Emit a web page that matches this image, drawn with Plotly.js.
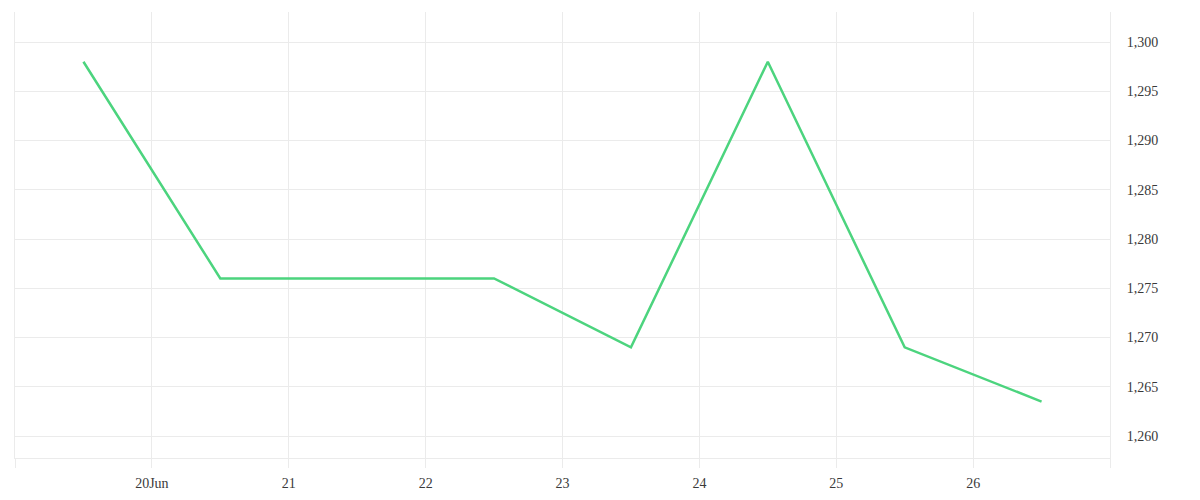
<!DOCTYPE html>
<html>
<head>
<meta charset="utf-8">
<script src="https://cdn.plot.ly/plotly-3.0.1.min.js"></script>
<style>
  html, body { margin: 0; padding: 0; background: #fff; }
  #chart { width: 1200px; height: 500px; }
</style>
</head>
<body>
<div id="chart"></div>
<script>
// one value per day, plotted at midday
const dates = ['2023-06-19 12:00', '2023-06-20 12:00', '2023-06-21 12:00', '2023-06-22 12:00',
  '2023-06-23 12:00', '2023-06-24 12:00', '2023-06-25 12:00', '2023-06-26 12:00'];
const values = [1298, 1276, 1276, 1276, 1269, 1298, 1269, 1263.5];

// x ticks, the two edge ones have no label
const tickDates = ['2023-06-19', '2023-06-20', '2023-06-21', '2023-06-22', '2023-06-23',
  '2023-06-24', '2023-06-25', '2023-06-26', '2023-06-27'];
const tickLabels = ['', '20Jun', '21', '22', '23', '24', '25', '26', ''];

const gridColor = '#ebebeb';
const fontFamily = 'Liberation Serif, DejaVu Serif, serif';
const textColor = '#3a3a3a';

const traces = [{
  type: 'scatter',
  mode: 'lines',
  x: dates,
  y: values,
  hoverinfo: 'x+y',
  line: { color: '#4cd47e', width: 2.5 },
}];

const layout = {
  width: 1200,
  height: 500,
  paper_bgcolor: '#fff',
  plot_bgcolor: '#fff',
  showlegend: false,
  font: { family: fontFamily, size: 14, color: textColor },
  margin: { l: 15, r: 90, t: 12, b: 42, pad: 0 },
  xaxis: {
    type: 'date',
    range: ['2023-06-19', '2023-06-27'],
    tickmode: 'array',
    tickvals: tickDates,
    ticktext: tickLabels,
    showgrid: true,
    gridcolor: gridColor,
    ticks: 'outside',
    ticklen: 9,
    tickcolor: gridColor,
    ticklabelstandoff: 3,
    showline: true,
    linecolor: gridColor,
    linewidth: 1,
    zeroline: false,
    tickfont: { family: fontFamily, size: 14, color: textColor },
  },
  yaxis: {
    side: 'right',
    range: [1257.77, 1303.05],
    dtick: 5,
    tick0: 1260,
    tickformat: ',d',
    showgrid: true,
    gridcolor: gridColor,
    ticks: 'outside',
    ticklen: 13,
    tickcolor: 'rgba(0,0,0,0)',
    showline: true,
    mirror: true,
    linecolor: gridColor,
    zeroline: false,
    tickfont: { family: fontFamily, size: 14, color: textColor },
  },
};

Plotly.newPlot('chart', traces, layout, { displayModeBar: false, staticPlot: true });
</script>
</body>
</html>
